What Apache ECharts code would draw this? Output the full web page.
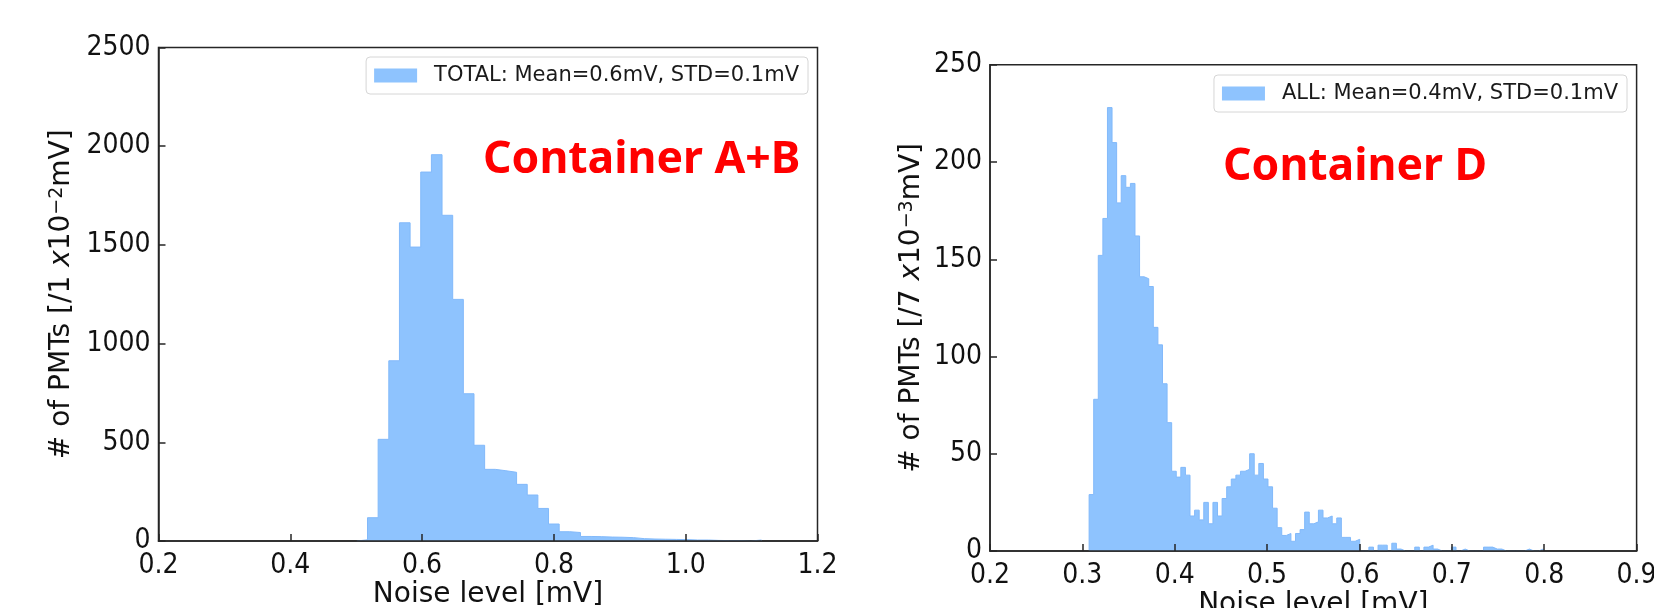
<!DOCTYPE html>
<html>
<head>
<meta charset="utf-8">
<script src="https://cdn.jsdelivr.net/npm/echarts@6/dist/echarts.min.js"></script>
<style>
html,body{margin:0;padding:0;background:#fff;}
#chart{width:1654px;height:608px;}
</style>
</head>
<body>
<div id="chart"></div>
<script>
// ---------------- data: Container A+B ----------------
const abBinStart = 0.501;      // mV, left edge of first bin
const abBinWidth = 0.016158;   // mV
const abCounts = [6,118,515,913,1612,1489,1869,1957,1650,1224,746,485,363,356,348,287,233,165,86,47,
                  43,23,22,20,19,17,12,10,9,8,7,5,5,3,2,2,0,5];
const abXTicks = [0.2,0.4,0.6,0.8,1.0,1.2];
const abYTicks = [0,500,1000,1500,2000,2500];
const abLegend = 'TOTAL: Mean=0.6mV, STD=0.1mV';
const abTitle = 'Container A+B';

// ---------------- data: Container D ----------------
const dBinStart = 0.3073;
const dBinWidth = 0.004965;
const dCounts = [29,78,152,171,228,210,179,193,187,189,162,141,140,136,115,106,86,66,41,38,43,39,18,21,16,25,14,
                 25,18,27,33,37,39,41,42,50,39,45,37,33,22,12,8,9,5,9,11,20,14,15,21,17,18,14,17,7,7,5,6,
                 0,0,2,0,3,3,0,4,1,0,0,0,2,0,2,3,1,0,0,0,2,0,1,0,0,0,0,2,2,1,1,0,0,0,0,0,1,0,0,1];
const dXTicks = [0.2,0.3,0.4,0.5,0.6,0.7,0.8,0.9];
const dYTicks = [0,50,100,150,200,250];
const dLegend = 'ALL: Mean=0.4mV, STD=0.1mV';
const dTitle = 'Container D';

const xName = 'Noise level [mV]';
const abYName = '{m|# of PMTs [/1 }{i|x}{m|10}{s|\u22122}{m|mV]}';
const dYName = '{m|# of PMTs [/7 }{i|x}{m|10}{s|\u22123}{m|mV]}';

// ---------------- helpers ----------------
function histPoints(start, width, counts) {
  const pts = [[start, 0]];
  counts.forEach((c, k) => pts.push([start + k * width, c]));
  pts.push([start + counts.length * width, 0]);
  return pts;
}

const FILL = '#8ec3fe';
const EDGE = '#82b9fa';
const AXC = '#262626';
const tickFont = "'DejaVu Sans Condensed', 'DejaVu Sans', sans-serif";
const textFont = "'DejaVu Sans', sans-serif";

function xAxisOpt(grid, ticks, nameGap) {
  return {
    gridIndex: grid, type: 'value',
    min: ticks[0], max: ticks[ticks.length - 1], interval: ticks[1] - ticks[0],
    z: 5,
    splitLine: {show: false},
    axisLine: {show: true, onZero: false, lineStyle: {color: AXC, width: 1.5}},
    axisTick: {show: true, inside: true, length: 7, lineStyle: {color: AXC, width: 1.5}},
    axisLabel: {show: true, margin: 11, fontSize: 28, fontFamily: tickFont, color: '#111',
                formatter: v => v.toFixed(1), showMinLabel: true, showMaxLabel: true, hideOverlap: false},
    name: xName, nameLocation: 'middle', nameGap: nameGap, nameMoveOverlap: false,
    nameTextStyle: {fontSize: 28, fontFamily: textFont, color: '#111'}
  };
}
function yAxisOpt(grid, ticks, name, nameGap) {
  return {
    gridIndex: grid, type: 'value',
    min: ticks[0], max: ticks[ticks.length - 1], interval: ticks[1] - ticks[0],
    z: 5,
    splitLine: {show: false},
    axisLine: {show: true, lineStyle: {color: AXC, width: 1.5}},
    axisTick: {show: true, inside: true, length: 7, lineStyle: {color: AXC, width: 1.5}},
    axisLabel: {show: true, margin: 8, fontSize: 28, fontFamily: tickFont, color: '#111',
                formatter: v => String(Math.round(v)),
                showMinLabel: true, showMaxLabel: true, hideOverlap: false},
    name: name, nameLocation: 'middle', nameRotate: 90, nameGap: nameGap, nameMoveOverlap: false,
    nameTextStyle: {
      fontSize: 28, fontFamily: textFont, color: '#111',
      rich: {
        m: {fontSize: 28, fontFamily: textFont, color: '#111', lineHeight: 28, verticalAlign: 'bottom'},
        i: {fontSize: 28, fontFamily: textFont, fontStyle: 'italic', color: '#111', lineHeight: 28, verticalAlign: 'bottom'},
        s: {fontSize: 19, fontFamily: textFont, color: '#111', lineHeight: 19, padding: [0, 0, 14, 0], verticalAlign: 'top'}
      }
    }
  };
}
function legendOpt(name, right, top) {
  return {
    data: [{name: name, itemStyle: {color: FILL, borderWidth: 0}}],
    right: right, top: top, orient: 'horizontal',
    icon: 'rect', itemWidth: 43, itemHeight: 14, itemGap: 0,
    selectedMode: false,
    backgroundColor: '#ffffff', borderColor: '#d6d6d6', borderWidth: 1, borderRadius: 4,
    padding: [8, 9, 8, 8],
    textStyle: {fontSize: 21, fontFamily: textFont, color: '#1a1a1a', padding: [0, 0, 0, 12]}
  };
}
function seriesOpt(name, idx, start, width, counts) {
  return {
    type: 'line', name: name, xAxisIndex: idx, yAxisIndex: idx,
    data: histPoints(start, width, counts),
    step: 'end', symbol: 'none', showSymbol: false, smooth: false,
    itemStyle: {color: FILL},
    lineStyle: {color: EDGE, width: 1},
    areaStyle: {color: FILL, opacity: 1},
    silent: true, animation: false, z: 2
  };
}

const gridBase = {show: true, borderColor: AXC, borderWidth: 1.5, backgroundColor: 'transparent',
                  containLabel: false, outerBoundsMode: 'none'};

const chart = echarts.init(document.getElementById('chart'), null, {renderer: 'canvas'});
chart.setOption({
  animation: false,
  backgroundColor: '#ffffff',
  title: [
    {text: abTitle, left: 483, top: 138, padding: 0,
     textStyle: {color: '#ff0000', fontSize: 44.5, fontWeight: 'bold', fontFamily: "'Noto Sans', sans-serif"}},
    {text: dTitle, left: 1223, top: 145, padding: 0,
     textStyle: {color: '#ff0000', fontSize: 44.5, fontWeight: 'bold', fontFamily: "'Noto Sans', sans-serif"}}
  ],
  legend: [legendOpt(abLegend, 846, 57), legendOpt(dLegend, 27, 75)],
  grid: [
    Object.assign({left: 158.5, top: 47.5, width: 659, height: 493.5}, gridBase),
    Object.assign({left: 990, top: 64.8, width: 646.6, height: 486.2}, gridBase)
  ],
  xAxis: [xAxisOpt(0, abXTicks, 40), xAxisOpt(1, dXTicks, 40)],
  yAxis: [yAxisOpt(0, abYTicks, abYName, 83), yAxisOpt(1, dYTicks, dYName, 64)],
  series: [
    seriesOpt(abLegend, 0, abBinStart, abBinWidth, abCounts),
    seriesOpt(dLegend, 1, dBinStart, dBinWidth, dCounts)
  ]
});
</script>
</body>
</html>
